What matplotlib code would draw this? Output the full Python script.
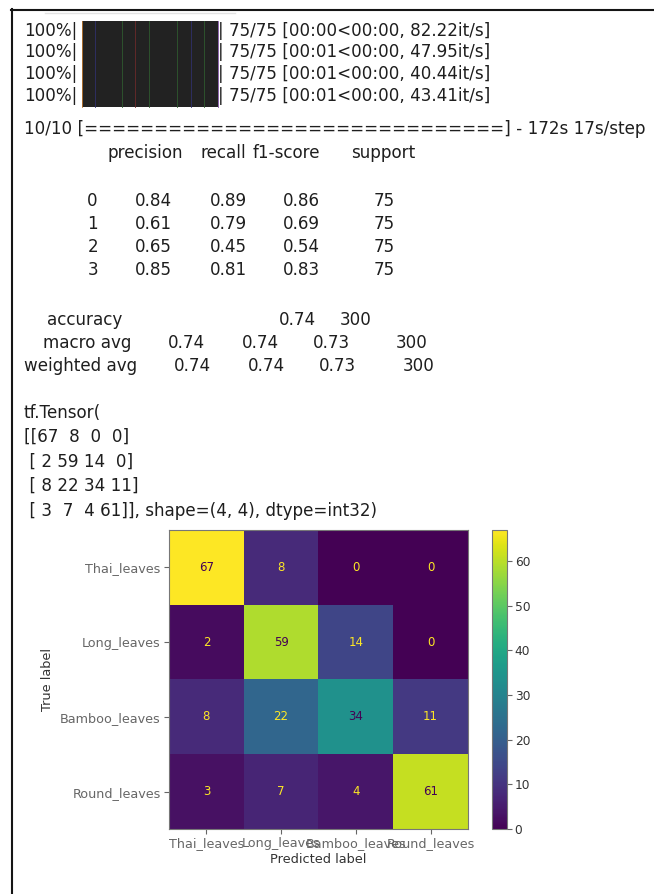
import matplotlib
matplotlib.use("Agg")
import matplotlib.pyplot as plt
import numpy as np
from matplotlib.patches import Rectangle
from matplotlib.lines import Line2D

# ---- data -------------------------------------------------------------
classes = ["Thai_leaves", "Long_leaves", "Bamboo_leaves", "Round_leaves"]
class_ids = ["0", "1", "2", "3"]
conf_matrix = np.array([[67, 8, 0, 0],
                        [2, 59, 14, 0],
                        [8, 22, 34, 11],
                        [3, 7, 4, 61]])

precision = [0.84, 0.61, 0.65, 0.85]
recall = [0.89, 0.79, 0.45, 0.81]
f1_score = [0.86, 0.69, 0.54, 0.83]
support = [75, 75, 75, 75]
accuracy = 0.74
total_support = 300
macro_avg = [0.74, 0.74, 0.73]
weighted_avg = [0.74, 0.74, 0.73]

progress_done = [75, 75, 75, 75]
progress_elapsed = ["00:00", "00:01", "00:01", "00:01"]
progress_rates = [82.22, 47.95, 40.44, 43.41]
epoch_text = "10/10"
epoch_total = "172s"
epoch_step = "17s/step"

# ---- figure -----------------------------------------------------------
W, H = 654, 894
fig = plt.figure(figsize=(W / 100, H / 100), dpi=100)
fig.patch.set_facecolor("white")

TXT = "#1e1e1e"
FONT = ["DejaVu Sans"]
FS = 12.1


def fx(x):
    return x / W


def fy(y):
    return 1 - y / H


def put(x, y, s, ha="left", **kw):
    kw.setdefault("fontsize", FS)
    kw.setdefault("color", TXT)
    fig.text(fx(x), fy(y), s, ha=ha, va="center", family=FONT, **kw)


# output cell frame
fig.add_artist(Line2D([fx(11), fx(W)], [fy(9.5), fy(9.5)], color="#151515", lw=1.5))
fig.add_artist(Line2D([fx(11.5), fx(11.5)], [fy(9), fy(H)], color="#151515", lw=1.5))
fig.add_artist(Line2D([fx(45), fx(235)], [fy(13), fy(13)], color="#e2e2e2", lw=1.0))

# progress bars
row_y = [31, 52, 74, 96]
fig.add_artist(Rectangle((fx(82), fy(107)), fx(218) - fx(82), fy(21) - fy(107),
                         facecolor="#222222", edgecolor="none"))
for xs, c in [(82, "#c07a30"), (95, "#30306a"), (122, "#2f5a2f"), (135, "#6a2a2a"),
              (149, "#2f5a2f"), (177, "#2f5a2f"), (191, "#30306a"), (204, "#2f5a2f"),
              (218, "#7a4aa0")]:
    fig.add_artist(Line2D([fx(xs), fx(xs)], [fy(21), fy(107)], color=c, lw=0.6))
for y, n, el, r in zip(row_y, progress_done, progress_elapsed, progress_rates):
    put(24, y, "100%|")
    put(218, y, f"| {n}/{n} [{el}<00:00, {r:.2f}it/s]")

# keras epoch line
put(24, 129, f"{epoch_text} [" + "=" * 30 + f"] - {epoch_total} {epoch_step}")

# classification report
put(183, 153, "precision", ha="right")
put(246, 153, "recall", ha="right")
put(253, 153, "f1-score", ha="left")
put(415, 153, "support", ha="right")
for i, y in enumerate([201, 224, 247, 270]):
    put(98, y, class_ids[i], ha="right")
    put(172, y, f"{precision[i]:.2f}", ha="right")
    put(247, y, f"{recall[i]:.2f}", ha="right")
    put(320, y, f"{f1_score[i]:.2f}", ha="right")
    put(395, y, f"{support[i]}", ha="right")

put(122, 320, "accuracy", ha="right")
put(316, 320, f"{accuracy:.2f}", ha="right")
put(372, 320, f"{total_support}", ha="right")

put(131, 343, "macro avg", ha="right")
for xr, v in zip([205, 279, 350], macro_avg):
    put(xr, 343, f"{v:.2f}", ha="right")
put(428, 343, f"{total_support}", ha="right")

put(137, 366, "weighted avg", ha="right")
for xr, v in zip([211, 285, 356], weighted_avg):
    put(xr, 366, f"{v:.2f}", ha="right")
put(435, 366, f"{total_support}", ha="right")

# tensor printout
put(24, 413, "tf.Tensor(")
rows_txt = []
for i, row in enumerate(conf_matrix):
    body = " ".join(f"{v:2d}" for v in row)
    rows_txt.append(("[[" if i == 0 else " [") + body + "]")
rows_txt[-1] += "], shape=(4, 4), dtype=int32)"
for i, s in enumerate(rows_txt):
    put(24, 437 + i * 24.5, s)

# ---- confusion matrix -------------------------------------------------
ax = fig.add_axes([fx(168), fy(829), (469 - 168) / W, (829 - 530) / H])
cmap = plt.get_cmap("viridis")
im = ax.imshow(conf_matrix, cmap=cmap, interpolation="nearest")
thresh = (conf_matrix.max() + conf_matrix.min()) / 2.0
for i in range(conf_matrix.shape[0]):
    for j in range(conf_matrix.shape[1]):
        v = conf_matrix[i, j]
        ax.text(j, i, f"{v}", ha="center", va="center", fontsize=8.5,
                color=cmap(0.0) if v >= thresh else cmap(1.0))
ax.set_xticks(range(len(classes)))
ax.set_yticks(range(len(classes)))
ax.set_xticklabels(classes, fontsize=9.2, color="#333333")
ax.set_yticklabels(classes, fontsize=9.2, color="#333333")
ax.set_xlabel("Predicted label", fontsize=9.3, color="#333333", labelpad=2)
ax.set_ylabel("True label", fontsize=9.3, color="#333333", labelpad=4)
ax.tick_params(colors="#666666", length=3.5, width=0.8, pad=2.5)
for sp in ax.spines.values():
    sp.set_color("#777777")
    sp.set_linewidth(0.8)

cax = fig.add_axes([fx(492), fy(829), 15 / W, (829 - 530) / H])
cb = fig.colorbar(im, cax=cax)
cb.set_ticks([0, 10, 20, 30, 40, 50, 60])
cb.ax.tick_params(labelsize=8.8, colors="#666666", length=3.5, width=0.8, pad=2)
for t in cb.ax.get_yticklabels():
    t.set_color("#333333")
cb.outline.set_edgecolor("#777777")
cb.outline.set_linewidth(0.8)

fig.savefig("out.png", dpi=100, facecolor="white")
